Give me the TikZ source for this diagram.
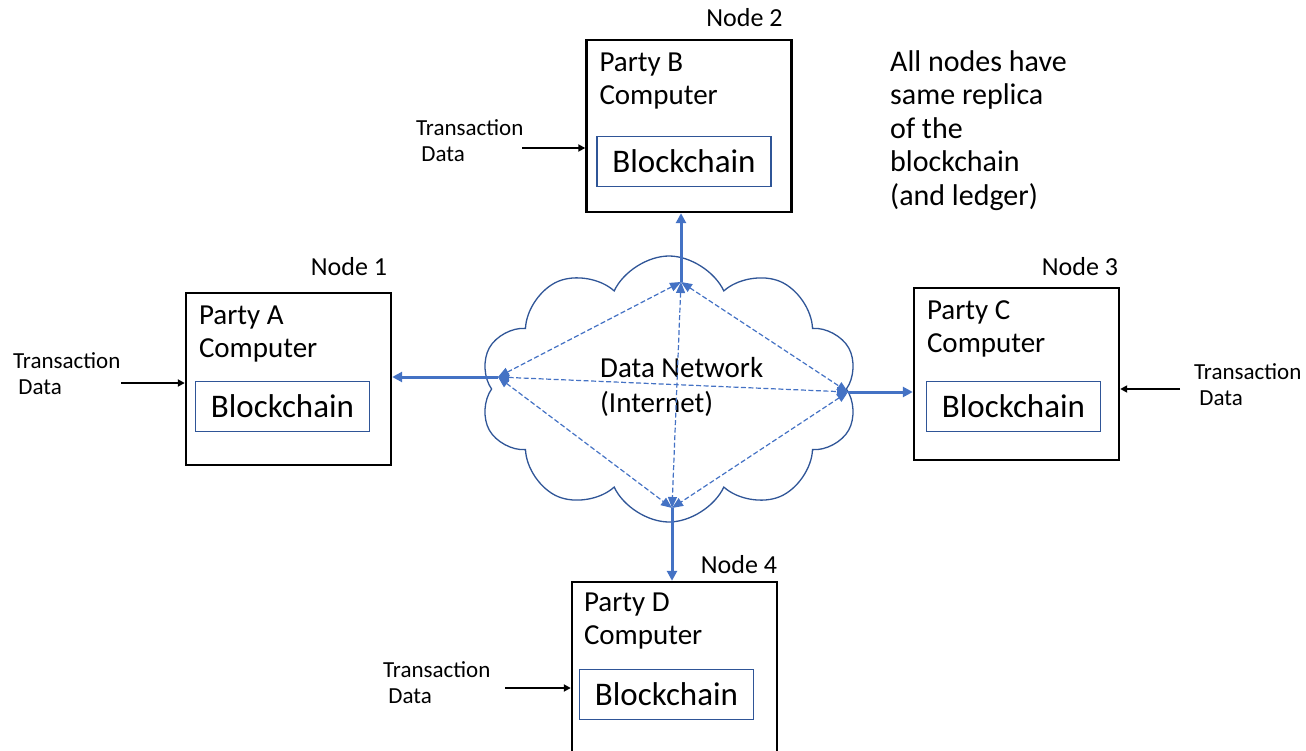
\documentclass[tikz,border=0pt]{standalone}
\usepackage{fontspec}
\setmainfont{Carlito}
\usetikzlibrary{positioning}
\usetikzlibrary{shapes.symbols}
\usetikzlibrary{arrows.meta}
\definecolor{linkblue}{HTML}{4472C4}
\definecolor{edgeblue}{HTML}{2F5597}
\tikzset{party node/.style={shape=rectangle, draw, line width=2.4pt,
    minimum width=205pt, minimum height=172pt, inner sep=0pt}}
\tikzset{chain node/.style={shape=rectangle, draw=edgeblue, line width=1.3pt,
    minimum width=174pt, minimum height=50pt, inner sep=0pt,
    font=\fontsize{33}{38}\selectfont}}
\tikzset{party text/.style={align=left, inner sep=0pt, anchor=north west,
    font=\fontsize{29}{33}\selectfont}}
\tikzset{tag text/.style={inner sep=0pt, font=\fontsize{26}{30}\selectfont}}
\tikzset{input text/.style={align=left, inner sep=0pt, anchor=north west,
    font=\fontsize{23}{26}\selectfont}}
\tikzset{input arrow/.style={draw, line width=1.8pt, -{Triangle[length=7pt,width=7pt]}}}
\tikzset{link arrow/.style={draw=linkblue, line width=3pt, -{Triangle[length=10pt,width=10pt]}}}
\tikzset{mesh arrow/.style={color=linkblue, line width=1.2pt, dash pattern=on 5pt off 2.5pt,
    {Triangle[length=11pt,width=9pt]}-{Triangle[length=11pt,width=9pt]}}}

\begin{document}
\begin{tikzpicture}[x=1pt, y=-1pt]
    \useasboundingbox (0,0) rectangle (1306,751);

    % the network cloud
    \node[cloud, draw=edgeblue, line width=1.3pt, cloud puffs=10, cloud puff arc=130,
        aspect=1.4, minimum width=378pt, minimum height=266pt, inner sep=0pt] (net) at (669,389) {};
    \node[party text, font=\fontsize{29}{35}\selectfont] (dn) at (600,357) {Data Network\\(Internet)};

    \coordinate (p1) at (498,377);
    \coordinate (p2) at (681,282);
    \coordinate (p3) at (848,392);
    \coordinate (p4) at (672,508);

    % party computers
    \node[party node] (1) at (288.5,379) {};
    \node[party node] (2) at (689,126) {};
    \node[party node] (3) at (1016.5,374) {};
    \node[party node] (4) at (674.5,668) {};

    \node[party text] (a1) [below right = 14pt and 14pt of 1.north west] {Party A\\Computer};
    \node[party text] (a2) [below right = 14pt and 14pt of 2.north west] {Party B\\Computer};
    \node[party text] (a3) [below right = 14pt and 14pt of 3.north west] {Party C\\Computer};
    \node[party text] (a4) [below right = 12pt and 13pt of 4.north west] {Party D\\Computer};

    \node[chain node, anchor=north west] (c1) [below right = 89pt and 10pt of 1.north west] {Blockchain};
    \node[chain node, anchor=north west] (c2) [below right = 97pt and 11pt of 2.north west] {Blockchain};
    \node[chain node, anchor=north west] (c3) [below right = 94pt and 13pt of 3.north west] {Blockchain};
    \node[chain node, anchor=north west] (c4) [below right = 88pt and 8pt of 4.north west] {Blockchain};

    \node[tag text] (n1) [above left = 16pt and 5pt of 1.north east] {Node 1};
    \node[tag text] (n2) [above left = 12pt and 10pt of 2.north east] {Node 2};
    \node[tag text] (n3) [above left = 11pt and 2pt of 3.north east] {Node 3};
    \node[tag text] (n4) [above left = 7pt and 1pt of 4.north east] {Node 4};

    \node[party text, font=\fontsize{30}{33.5}\selectfont] (note) at (890,50) {All nodes have\\same replica\\of the\\blockchain\\(and ledger)};

    % transaction inputs
    \node[input text] (t1) at (13,352) {Transaction\\\ Data};
    \node[input text] (t2) at (416,119) {Transaction\\\ Data};
    \node[input text] (t3) at (1194,363) {Transaction\\\ Data};
    \node[input text] (t4) at (383,661) {Transaction\\\ Data};

    \coordinate (i1) at (121,383);
    \coordinate (i2) at (522,148);
    \coordinate (i3) at (1180,389);
    \coordinate (i4) at (505,688);

    \path[input arrow] (i1) -- (i1 -| 1.west);
    \path[input arrow] (i2) -- (i2 -| 2.west);
    \path[input arrow] (i3) -- (i3 -| 3.east);
    \path[input arrow] (i4) -- (i4 -| 4.west);

    % links inside the network
    \path[mesh arrow]
    (p1) edge (p2)
    (p1) edge (p3)
    (p1) edge (p4)
    (p2) edge (p3)
    (p2) edge (p4)
    (p3) edge (p4)
    ;

    \path[link arrow] (p2) -- (p2 |- 2.south);
    \path[link arrow] (p1) -- (p1 -| 1.east);
    \path[link arrow] (p3) -- (p3 -| 3.west);
    \path[link arrow] (p4) -- (p4 |- 4.north);
\end{tikzpicture}
\end{document}
